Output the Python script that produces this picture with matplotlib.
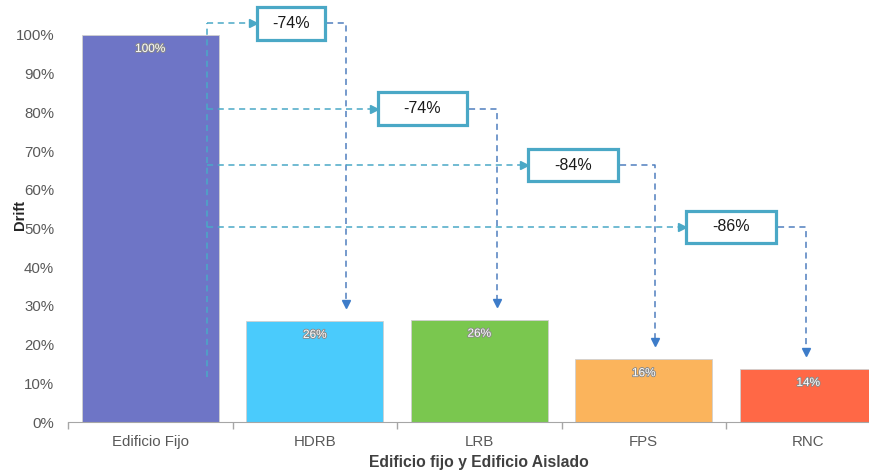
import matplotlib
matplotlib.use('Agg')
import matplotlib.pyplot as plt
import matplotlib.patheffects as pe
from matplotlib.patches import Rectangle
from matplotlib.ticker import PercentFormatter
import numpy as np

plt.rcParams['font.family'] = ['Liberation Sans', 'DejaVu Sans']

# Drift relativo de cada sistema
categories = ['Edificio Fijo', 'HDRB', 'LRB', 'FPS', 'RNC']
drift = [1.00, 0.261, 0.264, 0.162, 0.137]
bar_colors = ['#6E75C6', '#4ACBFC', '#7AC74F', '#FBB45C', '#FF6846']

# Recuadros de reduccion: nivel de la flecha, centro del recuadro, ancho, x de bajada
levels = [1.030, 0.810, 0.664, 0.504]
box_x = [0.856, 1.655, 2.570, 3.530]
box_w = [0.413, 0.545, 0.547, 0.547]
drop_x = [1.190, 2.108, 3.068, 3.986]

teal = '#4AA8C6'
blue = '#4F7FBF'

fig = plt.figure(figsize=(8.69, 4.73), dpi=100)
ax = fig.add_axes([68 / 869, 51 / 473, 822.5 / 869, 387 / 473])

x = np.arange(len(categories))
bars = ax.bar(x, drift, width=0.83, color=bar_colors, edgecolor='#D0D0D0', linewidth=0.6, zorder=2)

for xi, v in zip(x, drift):
    ax.annotate(f'{v:.0%}', (xi, v), xytext=(0, -10), textcoords='offset points',
                ha='center', va='center', fontsize=8.5, color='white',
                path_effects=[pe.withStroke(linewidth=1.3, foreground='#8A8A8A')], zorder=3)

ax.set_xlim(-0.5, 4.5)
ax.set_ylim(0, 1.0)
ax.set_yticks(np.arange(0, 1.01, 0.1))
ax.yaxis.set_major_formatter(PercentFormatter(1.0, decimals=0))
ax.set_xticks(x)
ax.set_xticklabels(categories)
ax.set_xticks(np.arange(-0.5, 5, 1), minor=True)
ax.tick_params(axis='x', which='major', length=0, pad=9, labelsize=10.8, labelcolor='#595959')
ax.tick_params(axis='x', which='minor', length=5, color='#A6A6A6', width=1)
ax.tick_params(axis='y', length=0, pad=10, labelsize=10.8, labelcolor='#595959')
for side in ['left', 'right', 'top']:
    ax.spines[side].set_visible(False)
ax.spines['bottom'].set_color('#A6A6A6')

ax.set_ylabel('Drift', fontsize=10.5, fontweight='bold', color='#262626')
ax.yaxis.set_label_coords(-0.05, 0.535)
ax.set_xlabel('Edificio fijo y Edificio Aislado', fontsize=11.3, fontweight='bold', color='#404040')
ax.xaxis.set_label_coords(0.5, -0.086)

# Linea vertical de referencia desde el edificio fijo
x0 = 0.345
ax.plot([x0, x0], [0.116, levels[0]], ls='--', dashes=(4, 3), color=teal, lw=1.1, clip_on=False, zorder=4)

box_h = 0.085
for i, (lv, bx, bw, dx) in enumerate(zip(levels, box_x, box_w, drop_x)):
    target = drift[i + 1]
    red = (target - drift[0]) / drift[0]
    left = bx - bw / 2
    right = bx + bw / 2
    # flecha hacia el recuadro
    ax.plot([x0, left - 0.03], [lv, lv], ls='--', dashes=(4, 3), color=teal, lw=1.1, clip_on=False, zorder=4)
    ax.plot(left - 0.022, lv, marker='>', ms=6, color=teal, mec=teal, clip_on=False, zorder=5)
    # recuadro con la reduccion
    ax.add_patch(Rectangle((left, lv - box_h / 2), bw, box_h, facecolor='white', edgecolor=teal,
                           lw=2.3, clip_on=False, zorder=6))
    ax.text(bx, lv, f'{red:.0%}', ha='center', va='center', fontsize=11.5, color='#1A1A1A',
            zorder=7, clip_on=False)
    # flecha hacia la barra del sistema aislado
    tip = target + 0.032
    ax.plot([right + 0.01, dx, dx], [lv, lv, tip + 0.02], ls='--', dashes=(4, 3), color=blue, lw=1.1,
            clip_on=False, zorder=4)
    ax.plot(dx, tip + 0.012, marker='v', ms=6, color='#3D7CC9', mec='#3D7CC9', clip_on=False, zorder=5)

fig.savefig('out.png', dpi=100)
